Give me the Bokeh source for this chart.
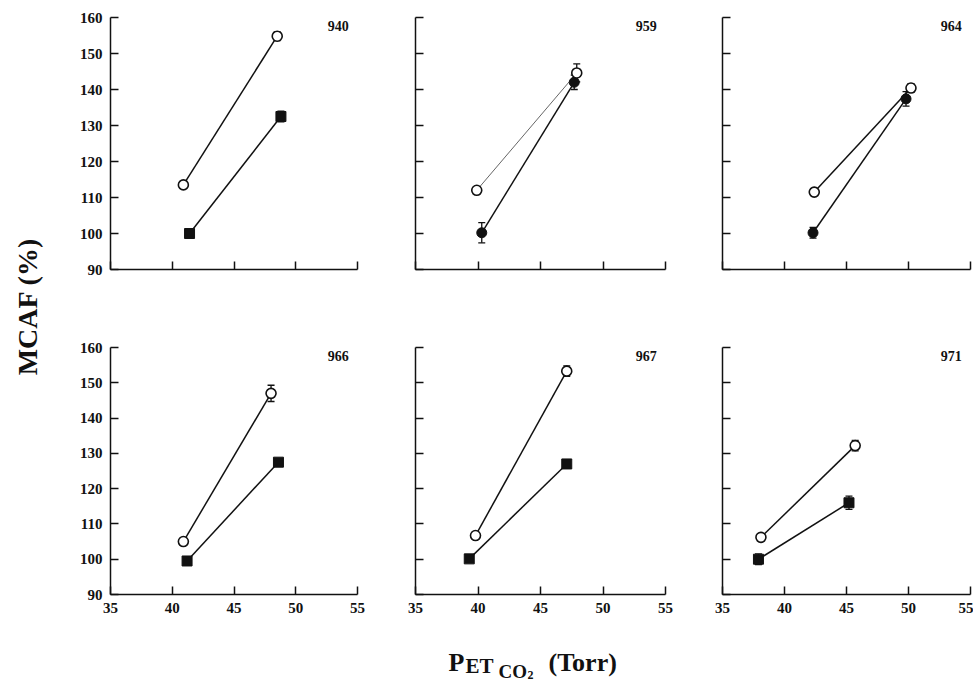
import math
from bokeh.plotting import figure
from bokeh.models import Range1d, FixedTicker, ColumnDataSource, Whisker, TeeHead, Label
from bokeh.layouts import row, column
from bokeh.embed import file_html
from bokeh.resources import INLINE

# ---------------- data ----------------
panels = ["940", "959", "964", "966", "967", "971"]

open_x = [[40.9, 48.5], [39.9, 47.9], [42.4, 50.2], [40.9, 48.0], [39.8, 47.1], [38.1, 45.7]]
open_y = [[113.5, 154.8], [112.0, 144.6], [111.5, 140.4], [105.0, 147.0], [106.7, 153.3], [106.2, 132.2]]
open_err = [[0.6, 1.2], [0.6, 2.5], [0.6, 1.2], [0.6, 2.3], [0.6, 1.5], [0.6, 1.5]]

filled_x = [[41.4, 48.8], [40.3, 47.7], [42.3, 49.8], [41.2, 48.6], [39.3, 47.1], [37.9, 45.2]]
filled_y = [[100.0, 132.5], [100.2, 142.0], [100.2, 137.4], [99.5, 127.5], [100.1, 127.0], [100.0, 116.0]]
filled_err = [[0.8, 1.5], [2.8, 2.0], [1.5, 2.0], [0.8, 1.0], [0.8, 1.0], [1.5, 1.9]]

x_ticks = [35, 40, 45, 50, 55]
y_ticks = [90, 100, 110, 120, 130, 140, 150, 160]

y_label = "MCAF (%)"
x_label_parts = ["P", "ET", "CO", "2", "(Torr)"]

# ---------------- styling ----------------
INK = "#111111"
FONT = "Liberation Serif"
filled_marker = ["square", "circle", "circle", "square", "square", "square"]
open_line_color = [INK, "#666666", INK, INK, INK, INK]
open_line_width = [1.5, 1.0, 1.5, 1.5, 1.5, 1.5]

# layout geometry (pixels)
ylab_w = 50
col_w = [320, 307, 296]
col_bl = [60, 45, 45]
col_br = [13, 12, 3]
row_h = [300, 330]
row_bt = [17, 47]
row_bb = [31, 36]
xlab_h = 55


def make_panel(i):
    r, c = divmod(i, 3)
    p = figure(width=col_w[c], height=row_h[r],
               x_range=Range1d(x_ticks[0], x_ticks[-1]),
               y_range=Range1d(y_ticks[0], y_ticks[-1]),
               output_backend="svg", toolbar_location=None,
               min_border_left=col_bl[c], min_border_right=col_br[c],
               min_border_top=row_bt[r], min_border_bottom=row_bb[r])
    p.outline_line_color = None
    p.grid.visible = False
    p.background_fill_color = "white"
    p.border_fill_color = "white"

    for ax, ticks in ((p.xaxis[0], x_ticks), (p.yaxis[0], y_ticks)):
        ax.ticker = FixedTicker(ticks=ticks)
        ax.minor_tick_line_color = None
        ax.major_tick_in = 8
        ax.major_tick_out = 0
        ax.axis_line_width = 1.5
        ax.axis_line_color = INK
        ax.major_tick_line_width = 1.5
        ax.major_tick_line_color = INK
        ax.major_label_text_font = FONT
        ax.major_label_text_font_style = "bold"
        ax.major_label_text_font_size = "15px"
        ax.major_label_text_color = INK
        ax.major_label_standoff = 8
    if r == 0:
        p.xaxis[0].major_label_overrides = {t: "" for t in x_ticks}
    if c != 0:
        p.yaxis[0].major_label_overrides = {t: "" for t in y_ticks}

    # lines
    p.line(open_x[i], open_y[i], line_color=open_line_color[i], line_width=open_line_width[i])
    p.line(filled_x[i], filled_y[i], line_color=INK, line_width=1.5)

    # error bars
    for xs, ys, es in ((open_x[i], open_y[i], open_err[i]),
                       (filled_x[i], filled_y[i], filled_err[i])):
        src = ColumnDataSource(dict(x=xs,
                                    lo=[y - e for y, e in zip(ys, es)],
                                    hi=[y + e for y, e in zip(ys, es)]))
        w = Whisker(source=src, base="x", lower="lo", upper="hi",
                    line_color=INK, line_width=1.3,
                    upper_head=TeeHead(size=7, line_color=INK, line_width=1.3),
                    lower_head=TeeHead(size=7, line_color=INK, line_width=1.3))
        p.add_layout(w)

    # markers
    p.scatter(filled_x[i], filled_y[i], marker=filled_marker[i], size=10,
              fill_color=INK, line_color=INK, line_width=1)
    p.scatter(open_x[i], open_y[i], marker="circle", size=10,
              fill_color="white", line_color=INK, line_width=1.6)

    # panel number
    p.add_layout(Label(x=54.3, y=159.0, text=panels[i], text_align="right",
                       text_baseline="top", text_font=FONT, text_font_style="bold",
                       text_font_size="14px", text_color=INK))
    return p


figs = [make_panel(i) for i in range(6)]

# y-axis title figure
ylab = figure(width=ylab_w, height=sum(row_h), x_range=Range1d(0, ylab_w),
              y_range=Range1d(0, sum(row_h)), output_backend="svg",
              toolbar_location=None, x_axis_location=None, y_axis_location=None,
              min_border=0)
ylab.outline_line_color = None
ylab.grid.visible = False
ylab.add_layout(Label(x=27, y=sum(row_h) - 306, text=y_label, angle=math.pi / 2,
                      text_align="center", text_baseline="middle",
                      text_font=FONT, text_font_style="bold",
                      text_font_size="28px", text_color=INK))

# x-axis title figure
total_w = ylab_w + sum(col_w)
xlab = figure(width=total_w, height=xlab_h, x_range=Range1d(0, total_w),
              y_range=Range1d(0, xlab_h), output_backend="svg",
              toolbar_location=None, x_axis_location=None, y_axis_location=None,
              min_border=0)
xlab.outline_line_color = None
xlab.grid.visible = False
part_x = [448, 465, 498, 527, 548]
part_y = [38, 32, 25, 14.5, 38]
part_size = ["26px", "21px", "19px", "12px", "26px"]
for t, px, py, fs in zip(x_label_parts, part_x, part_y, part_size):
    xlab.add_layout(Label(x=px, y=py, text=t, text_align="left",
                          text_baseline="top", text_font=FONT,
                          text_font_style="bold", text_font_size=fs,
                          text_color=INK))

layout = column(row(ylab, column(row(*figs[:3]), row(*figs[3:]))), xlab)

open("out.html", "w").write(file_html(layout, INLINE))
